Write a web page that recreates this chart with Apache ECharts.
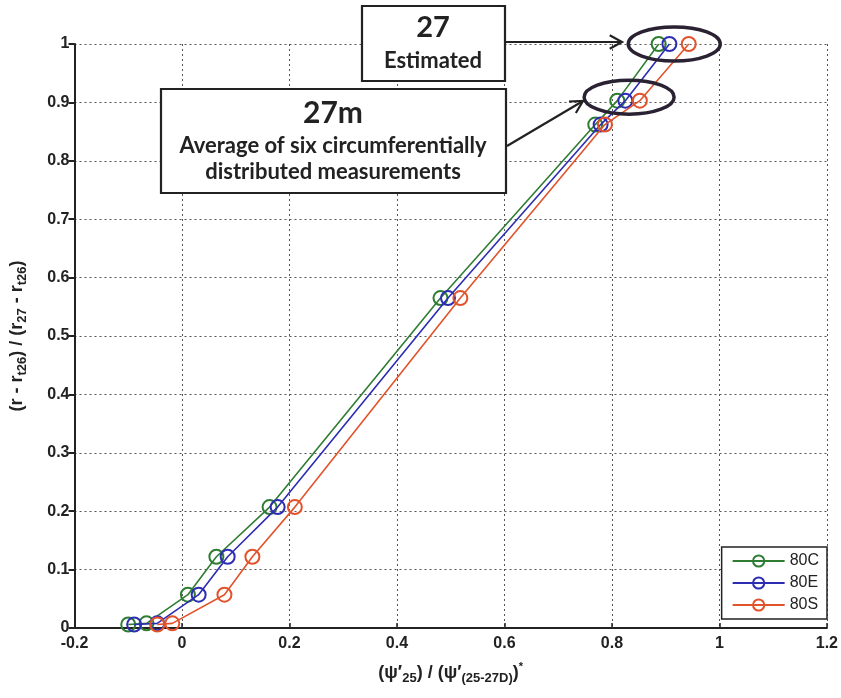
<!DOCTYPE html>
<html>
<head>
<meta charset="utf-8">
<script src="https://cdn.jsdelivr.net/npm/echarts@6/dist/echarts.min.js"></script>
<style>
  html, body { margin: 0; padding: 0; background: #fff; }
  #chart { width: 841px; height: 698px; }
</style>
</head>
<body>
<div id="chart"></div>
<script>
// levels on the y axis, shared by the three series
var yLevels = [0.006, 0.008, 0.057, 0.122, 0.207, 0.565, 0.862, 0.903, 1.0];
var x80C = [-0.100, -0.066, 0.011, 0.064, 0.163, 0.481, 0.769, 0.810, 0.887];
var x80E = [-0.089, -0.046, 0.031, 0.085, 0.178, 0.495, 0.779, 0.825, 0.907];
var x80S = [-0.046, -0.018, 0.079, 0.131, 0.210, 0.518, 0.787, 0.852, 0.943];
var seriesNames = ['80C', '80E', '80S'];
var seriesColors = ['#2f7d32', '#2d2db4', '#e2532c'];
var xTicks = { min: -0.2, max: 1.2, step: 0.2 };
var yTicks = { min: 0, max: 1, step: 0.1 };

function pairs(xs){
	return xs.map(function(x, i){ return [x, yLevels[i]]; });
}

var chart = echarts.init(document.getElementById('chart'));
var font = 'Liberation Sans, Arial, sans-serif';
var boxFont = 'Lato, Open Sans, sans-serif';

var option = {
	animation: false,
	grid: { left: 73, right: 14, top: 44, bottom: 70, containLabel: false },
	legend: {
		orient: 'vertical',
		right: 14, bottom: 79,
		padding: [6, 8, 6, 10],
		itemGap: 6,
		itemWidth: 52, itemHeight: 14,
		backgroundColor: '#fff',
		borderColor: '#222', borderWidth: 1.5,
		borderRadius: 0,
		textStyle: { fontFamily: font, fontSize: 16, color: '#222' },
		data: seriesNames
	},
	xAxis: {
		type: 'value',
		min: xTicks.min, max: xTicks.max, interval: xTicks.step,
		axisLine: { onZero: false, lineStyle: { color: '#222', width: 2 } },
		axisTick: { show: true, inside: true, length: 5, lineStyle: { color: '#222', width: 1.5 } },
		axisLabel: { fontFamily: font, fontSize: 16, fontWeight: 'bold', color: '#222', margin: 8 },
		splitLine: { show: true, lineStyle: { type: [2, 3], color: '#555', width: 1 } },
		name: '{a|(ψ\u2032}{s|25}{a|) / (ψ\u2032}{s|(25-27D)}{a|)}{p|*}',
		nameLocation: 'middle', nameGap: 33,
		nameTextStyle: {
			rich: {
				a: { fontFamily: font, fontSize: 18, fontWeight: 'bold', color: '#222' },
				s: { fontFamily: font, fontSize: 13, fontWeight: 'bold', color: '#222', verticalAlign: 'bottom', padding: [11, 0, 0, 0] },
				p: { fontFamily: font, fontSize: 11, fontWeight: 'bold', color: '#222', verticalAlign: 'top', padding: [0, 0, 10, 0] }
			}
		}
	},
	yAxis: {
		type: 'value',
		min: yTicks.min, max: yTicks.max, interval: yTicks.step,
		axisLine: { show: true, onZero: false, lineStyle: { color: '#222', width: 2 } },
		axisTick: { show: true, inside: false, length: 6, lineStyle: { color: '#222', width: 2 } },
		axisLabel: { fontFamily: font, fontSize: 16, fontWeight: 'bold', color: '#222', margin: 5 },
		splitLine: { show: true, lineStyle: { type: [2, 3], color: '#555', width: 1 } },
		name: '{a|(r - r}{s|t26}{a|) / (r}{s|27}{a| - r}{s|t26}{a|)}',
		nameLocation: 'middle', nameGap: 46, nameRotate: 90,
		nameTextStyle: {
			rich: {
				a: { fontFamily: font, fontSize: 18, fontWeight: 'bold', color: '#222' },
				s: { fontFamily: font, fontSize: 13, fontWeight: 'bold', color: '#222', verticalAlign: 'bottom', padding: [10, 0, 0, 0] }
			}
		}
	},
	series: [x80C, x80E, x80S].map(function(xs, i){
		return {
			name: seriesNames[i],
			type: 'line',
			data: pairs(xs),
			symbol: 'circle',
			symbolSize: 14,
			itemStyle: { color: 'transparent', borderColor: seriesColors[i], borderWidth: 2 },
			lineStyle: { color: seriesColors[i], width: 1.6 },
			z: 3 + i
		};
	})
};
chart.setOption(option);

// annotation boxes, arrows and ellipses
function px(x, y){ return chart.convertToPixel({ gridIndex: 0 }, [x, y]); }
var e1 = px(0.916, 1.0);
var e2 = px(0.832, 0.909);
function arrowHead(x, y, ang){
	var L = 14, a = 0.5;
	return [
		[x - L * Math.cos(ang - a), y - L * Math.sin(ang - a)],
		[x, y],
		[x - L * Math.cos(ang + a), y - L * Math.sin(ang + a)]
	];
}
var a1 = [[505, 42], [622, 42]];
var a2 = [[507, 146], [583, 101]];
var ang1 = Math.atan2(a1[1][1] - a1[0][1], a1[1][0] - a1[0][0]);
var ang2 = Math.atan2(a2[1][1] - a2[0][1], a2[1][0] - a2[0][0]);
var stroke = { stroke: '#222', lineWidth: 2.2, fill: null };
var txt = function(x, y, s, size){
	return { type: 'text', x: x, y: y, z: 11,
		style: { text: s, fontFamily: boxFont, fontSize: size, fontWeight: 'bold', fill: '#222', align: 'center', verticalAlign: 'middle' } };
};
chart.setOption({
	graphic: [
		{ type: 'ellipse', shape: { cx: e1[0], cy: e1[1], rx: 46, ry: 17 }, style: { stroke: '#2a2233', lineWidth: 3.5, fill: null }, z: 10 },
		{ type: 'ellipse', shape: { cx: e2[0], cy: e2[1], rx: 45, ry: 17 }, style: { stroke: '#2a2233', lineWidth: 3.5, fill: null }, z: 10 },
		{ type: 'polyline', shape: { points: a1 }, style: stroke, z: 10 },
		{ type: 'polyline', shape: { points: arrowHead(a1[1][0], a1[1][1], ang1) }, style: stroke, z: 10 },
		{ type: 'polyline', shape: { points: a2 }, style: stroke, z: 10 },
		{ type: 'polyline', shape: { points: arrowHead(a2[1][0], a2[1][1], ang2) }, style: stroke, z: 10 },
		{ type: 'rect', shape: { x: 362, y: 6, width: 143, height: 75 }, style: { fill: '#fff', stroke: '#222', lineWidth: 2.2 }, z: 10 },
		txt(433, 28, '27', 29),
		txt(433, 61, 'Estimated', 22),
		{ type: 'rect', shape: { x: 161, y: 89, width: 345, height: 104 }, style: { fill: '#fff', stroke: '#222', lineWidth: 2.2 }, z: 10 },
		txt(333, 113, '27m', 30),
		txt(333, 146, 'Average of six circumferentially', 22),
		txt(333, 172, 'distributed measurements', 22)
	]
});
</script>
</body>
</html>
